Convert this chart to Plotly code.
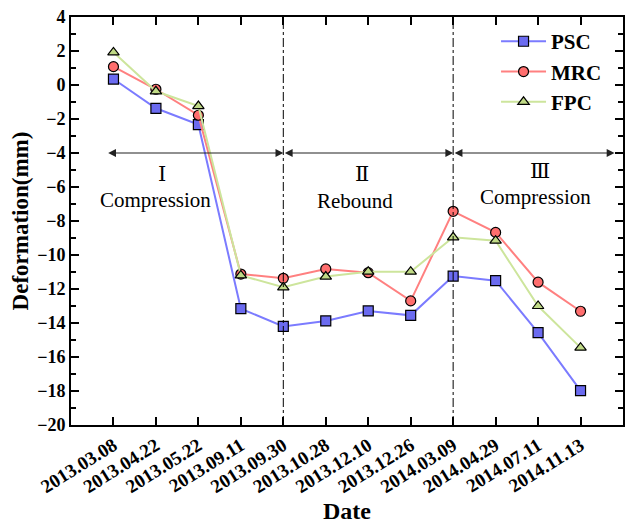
import plotly.graph_objects as go

dates = ["2013.03.08", "2013.04.22", "2013.05.22", "2013.09.11", "2013.09.30",
         "2013.10.28", "2013.12.10", "2013.12.26", "2014.03.09", "2014.04.29",
         "2014.07.11", "2014.11.13"]
psc = [0.35, -1.37, -2.33, -13.16, -14.2, -13.88, -13.29, -13.55, -11.24, -11.51, -14.57, -17.98]
mrc = [1.08, -0.25, -1.78, -11.12, -11.37, -10.82, -11.04, -12.7, -7.43, -8.67, -11.6, -13.31]
fpc = [1.92, -0.37, -1.24, -11.2, -11.9, -11.27, -10.98, -10.98, -8.96, -9.16, -13.0, -15.45]
stage_bounds = [4, 8]
stage_labels = ["Ⅰ", "Ⅱ", "Ⅲ"]
stage_names = ["Compression", "Rebound", "Compression"]

xs = list(range(len(dates)))
serif = "Liberation Serif, Times New Roman, serif"

fig = go.Figure()
series = [
    ("PSC", psc, "square", "#7b7bff", "#6b6bf0"),
    ("MRC", mrc, "circle", "#ff8080", "#ff6e6e"),
    ("FPC", fpc, "triangle-up", "#cde59c", "#c0da86"),
]
for name, ys, sym, lc, mc in series:
    fig.add_trace(go.Scatter(
        x=xs, y=ys, name=name, mode="lines+markers",
        line=dict(color=lc, width=2),
        marker=dict(symbol=sym, size=10, color=mc, line=dict(color="black", width=1.2)),
    ))

for b in stage_bounds:
    fig.add_shape(type="line", x0=b, x1=b, y0=-20, y1=4, xref="x", yref="y",
                  line=dict(color="black", width=1, dash="dashdot"))

arrow_spans = [(-0.16, 4), (4, 8), (8, 11.8)]
for x0, x1 in arrow_spans:
    fig.add_annotation(x=x1, y=-4, ax=x0, ay=-4, xref="x", yref="y", axref="x", ayref="y",
                       text="", showarrow=True, arrowhead=2, startarrowhead=2,
                       arrowside="end+start", arrowwidth=1.2, arrowsize=1.3,
                       startarrowsize=1.3, arrowcolor="#222222")

label_pos = [(1.15, 1.0), (5.85, 5.7), (10.05, 9.95)]
name_y = [-6.75, -6.85, -6.6]
num_y = [-5.25, -5.25, -5.05]
for (lx, nx), lab, nm, ny, my in zip(label_pos, stage_labels, stage_names, name_y, num_y):
    fig.add_annotation(x=lx, y=my, text=lab, showarrow=False, xref="x", yref="y",
                       font=dict(family="DejaVu Serif, " + serif, size=21, color="black"))
    fig.add_annotation(x=nx, y=ny, text=nm, showarrow=False, xref="x", yref="y",
                       font=dict(family=serif, size=21, color="black"))

fig.update_layout(
    width=625, height=524,
    margin=dict(l=71, r=2, t=17, b=99, autoexpand=False),
    paper_bgcolor="white", plot_bgcolor="white",
    font=dict(family=serif, color="black"),
    legend=dict(x=0.77, y=0.99, xanchor="left", yanchor="top",
                bgcolor="rgba(0,0,0,0)", font=dict(family=serif, size=21, weight="bold"),
                tracegroupgap=0, itemwidth=45),
    showlegend=True,
)
fig.update_xaxes(
    range=[-1, 12], tickmode="array", tickvals=xs, ticktext=dates, tickangle=-32,
    ticks="inside", ticklen=8, tickwidth=2, tickcolor="black",
    showline=True, linecolor="black", linewidth=2, mirror="ticks",
    showgrid=False, zeroline=False, automargin=False, ticklabeloverflow="allow",
    tickfont=dict(family=serif, size=19, weight="bold"),
    title=dict(text="Date", font=dict(family=serif, size=24, weight="bold"), standoff=8),
)
fig.update_yaxes(
    range=[-20, 4], dtick=2, tick0=0,
    ticks="inside", ticklen=8, tickwidth=2, tickcolor="black",
    minor=dict(dtick=1, ticks="inside", ticklen=5, tickcolor="black", tickwidth=1.5),
    showline=True, linecolor="black", linewidth=2, mirror="ticks",
    showgrid=False, zeroline=False, automargin=False, ticklabeloverflow="allow",
    tickfont=dict(family=serif, size=18, weight="bold"),
    title=dict(text="Deformation(mm)", font=dict(family=serif, size=23, weight="bold"), standoff=2),
)

fig.write_html("out.html", config={"displayModeBar": False},
               post_script="document.body.style.margin='0';")
